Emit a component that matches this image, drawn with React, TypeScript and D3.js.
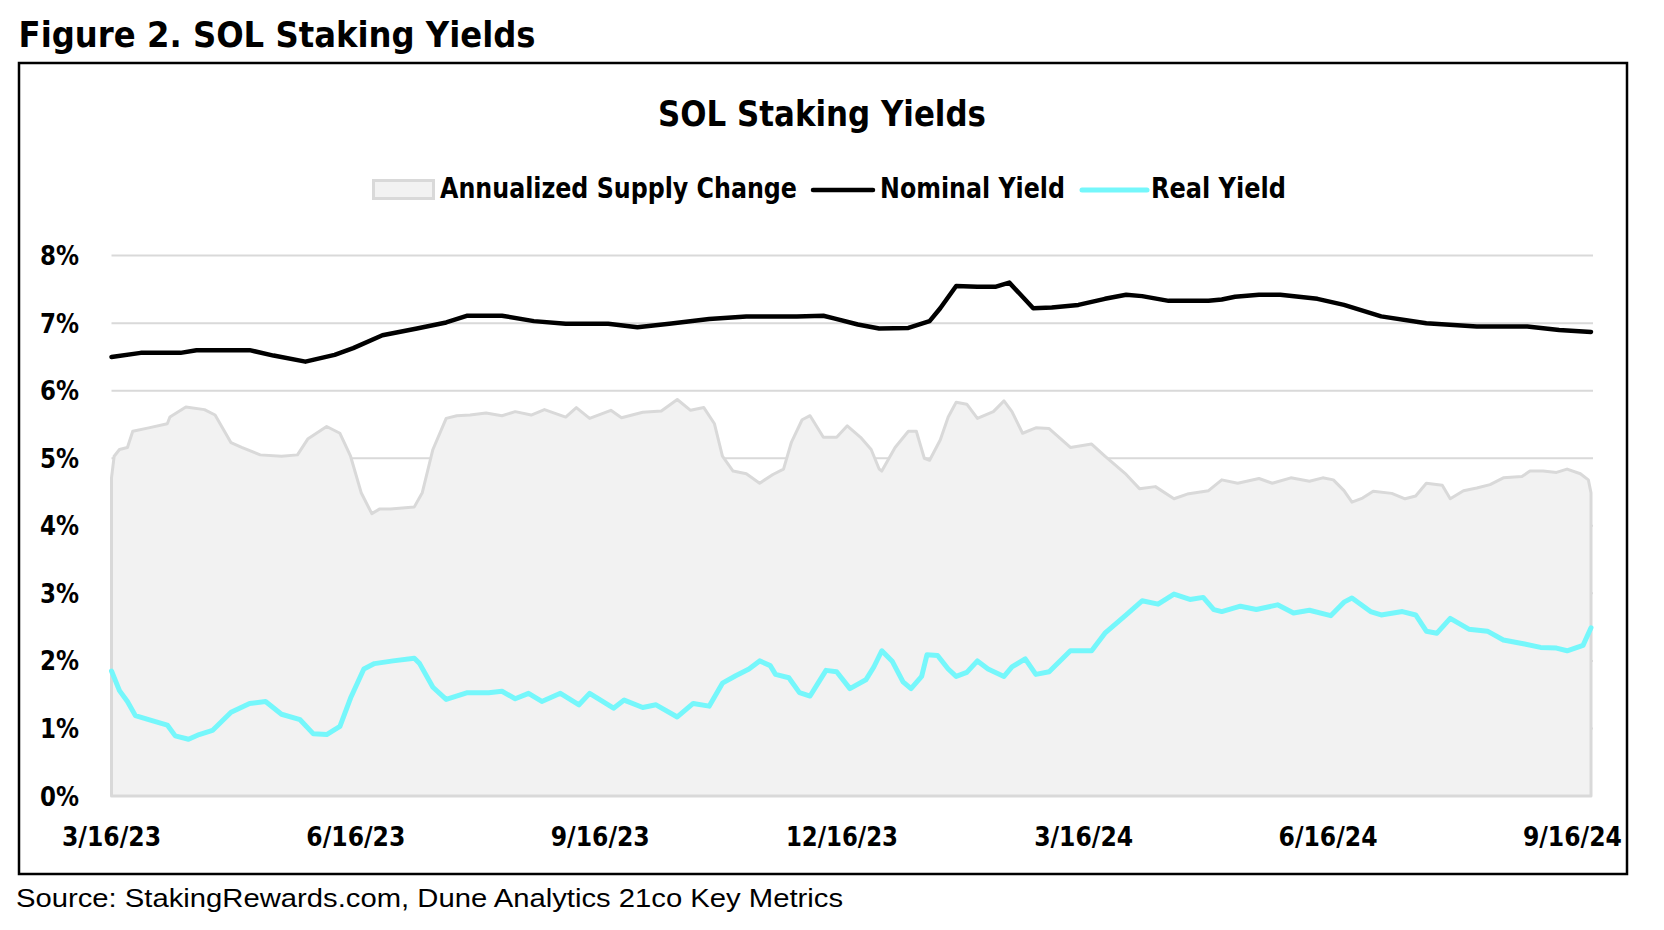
import React from "react";
import * as d3 from "d3";

// ---- data ----
// day offset from 3/16/23, value in %
const startDateLabel = "3/16/23";
const endDateLabel = "9/23/24";

const xTickLabels = ["3/16/23", "6/16/23", "9/16/23", "12/16/23", "3/16/24", "6/16/24", "9/16/24"];
const yTicks = [0, 1, 2, 3, 4, 5, 6, 7, 8];

const nominalYield: [number, number][] = [
  [0, 6.5], [11, 6.56], [26, 6.56], [32, 6.6], [52, 6.6], [61, 6.52], [73, 6.43], [84, 6.53],
  [91, 6.63], [102, 6.82], [115, 6.92], [126, 7.01], [134, 7.11], [147, 7.11], [159, 7.03],
  [171, 6.99], [187, 6.99], [198, 6.94], [210, 6.99], [225, 7.06], [239, 7.1], [258, 7.1],
  [268, 7.11], [272, 7.07], [281, 6.98], [289, 6.92], [300, 6.93], [308, 7.03], [312, 7.22],
  [318, 7.55], [326, 7.54], [333, 7.54], [338, 7.6], [347, 7.22], [354, 7.23], [364, 7.27],
  [374, 7.36], [382, 7.42], [388, 7.4], [398, 7.33], [413, 7.33], [418, 7.35], [423, 7.39],
  [432, 7.42], [440, 7.42], [454, 7.36], [464, 7.27], [478, 7.1], [495, 7.0], [514, 6.95],
  [533, 6.95], [545, 6.9], [557, 6.87],
];

const supplyChange: [number, number][] = [
  [0, 4.71], [1, 5.03], [3, 5.13], [6, 5.16], [8, 5.4], [14, 5.45], [21, 5.51], [22, 5.61],
  [28, 5.76], [35, 5.72], [39, 5.64], [45, 5.23], [49, 5.16], [56, 5.05], [64, 5.03], [70, 5.05],
  [74, 5.29], [81, 5.47], [86, 5.37], [90, 5.03], [94, 4.49], [98, 4.18], [101, 4.25], [105, 4.25],
  [114, 4.28], [117, 4.49], [121, 5.13], [126, 5.59], [130, 5.63], [135, 5.64], [141, 5.67],
  [147, 5.63], [152, 5.69], [158, 5.64], [163, 5.72], [171, 5.61], [175, 5.75], [180, 5.59],
  [188, 5.71], [192, 5.6], [200, 5.68], [207, 5.7], [213, 5.87], [218, 5.71], [223, 5.75],
  [227, 5.51], [230, 5.03], [234, 4.81], [239, 4.77], [244, 4.63], [249, 4.76], [253, 4.84],
  [256, 5.24], [260, 5.57], [263, 5.63], [268, 5.31], [273, 5.31], [277, 5.48], [282, 5.31],
  [286, 5.13], [289, 4.84], [290, 4.81], [295, 5.16], [300, 5.4], [303, 5.4], [306, 5.0],
  [308, 4.97], [312, 5.27], [315, 5.61], [318, 5.83], [322, 5.8], [326, 5.59], [332, 5.69],
  [336, 5.85], [339, 5.69], [343, 5.37], [348, 5.45], [353, 5.44], [361, 5.16], [369, 5.21],
  [374, 5.03], [382, 4.76], [387, 4.55], [393, 4.58], [400, 4.4], [405, 4.47], [413, 4.52],
  [418, 4.68], [424, 4.63], [432, 4.7], [437, 4.63], [444, 4.71], [451, 4.66], [456, 4.71],
  [460, 4.68], [464, 4.52], [467, 4.35], [471, 4.41], [475, 4.51], [482, 4.48], [487, 4.4],
  [491, 4.44], [495, 4.63], [501, 4.6], [504, 4.4], [509, 4.52], [514, 4.56], [519, 4.61],
  [524, 4.71], [531, 4.73], [534, 4.81], [539, 4.81], [544, 4.79], [548, 4.84], [553, 4.77],
  [556, 4.68], [557, 4.49],
];

const realYield: [number, number][] = [
  [0, 1.85], [3, 1.56], [6, 1.4], [9, 1.19], [14, 1.13], [21, 1.05], [24, 0.89], [29, 0.84],
  [33, 0.91], [38, 0.97], [45, 1.24], [52, 1.37], [58, 1.4], [64, 1.21], [71, 1.13], [76, 0.92],
  [81, 0.91], [86, 1.03], [90, 1.45], [95, 1.88], [99, 1.96], [106, 2.0], [114, 2.04], [116, 1.96],
  [121, 1.61], [126, 1.43], [134, 1.53], [142, 1.53], [147, 1.55], [152, 1.44], [157, 1.52],
  [162, 1.4], [169, 1.52], [176, 1.35], [180, 1.52], [189, 1.3], [193, 1.42], [200, 1.31],
  [205, 1.35], [213, 1.17], [219, 1.37], [225, 1.33], [230, 1.67], [235, 1.78], [240, 1.88],
  [244, 2.0], [248, 1.93], [250, 1.8], [255, 1.75], [259, 1.53], [263, 1.48], [266, 1.67],
  [269, 1.86], [273, 1.84], [278, 1.59], [284, 1.72], [287, 1.91], [290, 2.15], [294, 1.99],
  [298, 1.69], [301, 1.59], [305, 1.77], [307, 2.09], [311, 2.08], [315, 1.88], [318, 1.77],
  [322, 1.83], [326, 2.0], [330, 1.88], [336, 1.77], [339, 1.91], [344, 2.03], [348, 1.8],
  [353, 1.84], [361, 2.15], [369, 2.15], [374, 2.41], [382, 2.68], [388, 2.89], [394, 2.84],
  [400, 2.99], [406, 2.91], [411, 2.94], [415, 2.76], [418, 2.73], [425, 2.81], [431, 2.76],
  [439, 2.83], [445, 2.71], [451, 2.75], [459, 2.67], [464, 2.87], [467, 2.93], [474, 2.73],
  [478, 2.68], [486, 2.73], [491, 2.68], [495, 2.44], [499, 2.41], [504, 2.63], [511, 2.47],
  [518, 2.44], [524, 2.31], [532, 2.25], [538, 2.2], [544, 2.19], [548, 2.15], [554, 2.23],
  [557, 2.49],
];

const legendLabels = ["Annualized Supply Change", "Nominal Yield", "Real Yield"];

// ---- layout ----
const W = 1664;
const H = 930;
const plot = { left: 111.5, right: 1591, top: 255.6, bottom: 796 };
const gridRight = 1593;

const COLORS = {
  grid: "#d9d9d9",
  areaFill: "#f2f2f2",
  areaStroke: "#d9d9d9",
  nominal: "#000000",
  real: "#75F7FB",
};

const FONT_BOLD = "'Liberation Sans Narrow', 'Arial Narrow', 'DejaVu Sans Condensed', 'Liberation Sans', Arial, sans-serif";
const FONT_REG = "'Liberation Sans', Arial, sans-serif";

const parse = d3.timeParse("%m/%d/%y");

export default function App() {
  const start = parse(startDateLabel) as Date;
  const end = parse(endDateLabel) as Date;
  const x = d3.scaleTime().domain([start, end]).range([plot.left, plot.right]);
  const y = d3.scaleLinear().domain([0, 8]).range([plot.bottom, plot.top]);
  const toDate = (d: number) => d3.timeDay.offset(start, d);

  const line = d3
    .line<[number, number]>()
    .x((p) => x(toDate(p[0])))
    .y((p) => y(p[1]));

  const area = d3
    .area<[number, number]>()
    .x((p) => x(toDate(p[0])))
    .y0(y(0))
    .y1((p) => y(p[1]));

  const supplyOutline =
    `M${x(toDate(supplyChange[0][0]))},${y(0)}` +
    supplyChange.map((p) => `L${x(toDate(p[0]))},${y(p[1])}`).join("") +
    `L${x(toDate(supplyChange[supplyChange.length - 1][0]))},${y(0)}Z`;

  const xTicks = xTickLabels.map((l) => ({ label: l, date: parse(l) as Date }));

  return (
    <svg
      width={W}
      height={H}
      viewBox={`0 0 ${W} ${H}`}
      style={{ position: "absolute", left: 0, top: 0, background: "#fff" }}
    >
      <rect x={0} y={0} width={W} height={H} fill="#fff" />
      {/* Figure title */}
      <text x={18.6} y={47} fontFamily={FONT_BOLD} fontWeight="bold" fontSize={35} fill="#000" textLength={517} lengthAdjust="spacingAndGlyphs">
        Figure 2. SOL Staking Yields
      </text>

      {/* Frame */}
      <rect x={19} y={63} width={1608} height={811} fill="none" stroke="#000" strokeWidth={2.5} />

      {/* Chart title */}
      <text x={658} y={126} fontFamily={FONT_BOLD} fontWeight="bold" fontSize={36} fill="#000" textLength={328} lengthAdjust="spacingAndGlyphs">
        SOL Staking Yields
      </text>

      {/* Legend */}
      <rect x={373.5} y={180.5} width={60} height={18} fill={COLORS.areaFill} stroke={COLORS.areaStroke} strokeWidth={3} />
      <text x={440} y={198} fontFamily={FONT_BOLD} fontWeight="bold" fontSize={28} textLength={357} lengthAdjust="spacingAndGlyphs">
        {legendLabels[0]}
      </text>
      <line x1={813} x2={873} y1={190} y2={190} stroke={COLORS.nominal} strokeWidth={4.5} strokeLinecap="round" />
      <text x={880} y={198} fontFamily={FONT_BOLD} fontWeight="bold" fontSize={28} textLength={185} lengthAdjust="spacingAndGlyphs">
        {legendLabels[1]}
      </text>
      <line x1={1082} x2={1147} y1={190} y2={190} stroke={COLORS.real} strokeWidth={5} strokeLinecap="round" />
      <text x={1151} y={198} fontFamily={FONT_BOLD} fontWeight="bold" fontSize={28} textLength={135} lengthAdjust="spacingAndGlyphs">
        {legendLabels[2]}
      </text>

      {/* Gridlines */}
      {yTicks.filter((v) => v > 0).map((v) => (
        <line key={v} x1={plot.left} x2={gridRight} y1={y(v)} y2={y(v)} stroke={COLORS.grid} strokeWidth={2} />
      ))}

      {/* Area */}
      <path d={area(supplyChange) || ""} fill={COLORS.areaFill} stroke="none" />
      <path d={supplyOutline} fill="none" stroke={COLORS.areaStroke} strokeWidth={3} strokeLinejoin="round" />

      {/* Lines */}
      <path d={line(nominalYield) || ""} fill="none" stroke={COLORS.nominal} strokeWidth={4.5} strokeLinejoin="round" strokeLinecap="round" />
      <path d={line(realYield) || ""} fill="none" stroke={COLORS.real} strokeWidth={5} strokeLinejoin="round" strokeLinecap="round" />

      {/* Y axis labels */}
      {yTicks.map((v) => (
        <text key={v} x={79} y={y(v) + 9.5} textAnchor="end" fontFamily={FONT_BOLD} fontWeight="bold" fontSize={27} textLength={39} lengthAdjust="spacingAndGlyphs">
          {`${v}%`}
        </text>
      ))}

      {/* X axis labels */}
      {xTicks.map((t) => {
        const len = t.label.length > 7 ? 112 : 99;
        return (
          <text key={t.label} x={x(t.date) - len / 2} y={846} fontFamily={FONT_BOLD} fontWeight="bold" fontSize={27} textLength={len} lengthAdjust="spacingAndGlyphs">
            {t.label}
          </text>
        );
      })}

      {/* Source */}
      <text x={16} y={907} fontFamily={FONT_REG} fontSize={26} fill="#000" textLength={827} lengthAdjust="spacingAndGlyphs">
        Source: StakingRewards.com, Dune Analytics 21co Key Metrics
      </text>
    </svg>
  );
}
